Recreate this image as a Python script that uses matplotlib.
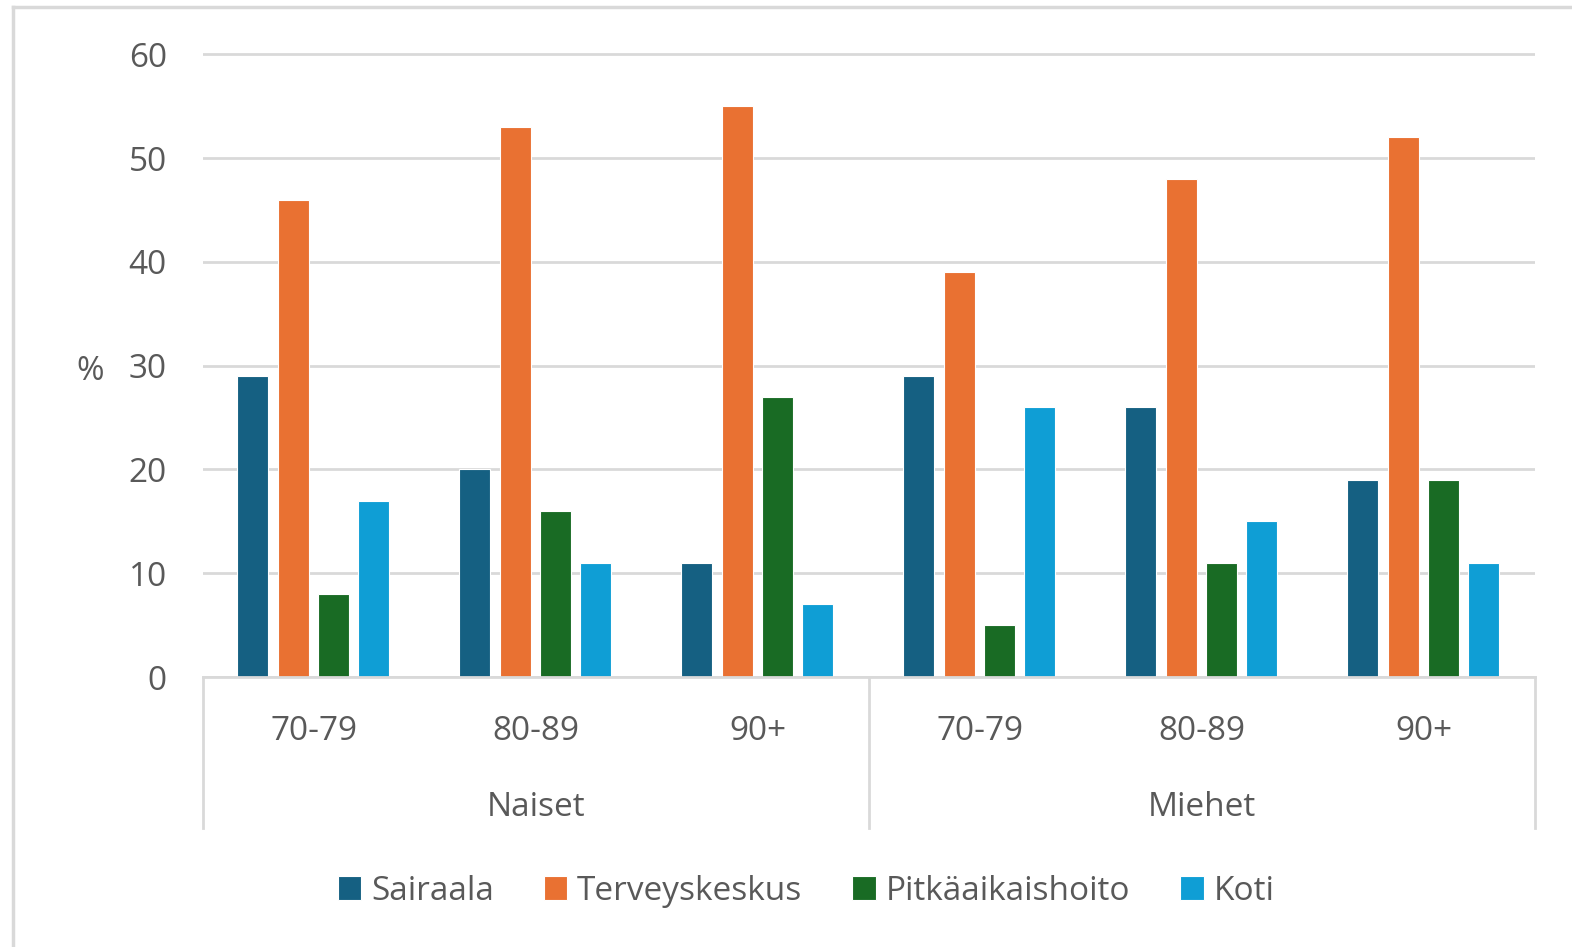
import matplotlib.pyplot as plt
from matplotlib.lines import Line2D
import numpy as np

plt.rcParams['font.family'] = ['Open Sans', 'DejaVu Sans']

groups = ['Naiset', 'Miehet']
ages = ['70-79', '80-89', '90+', '70-79', '80-89', '90+']
series = ['Sairaala', 'Terveyskeskus', 'Pitkäaikaishoito', 'Koti']

sairaala = [29, 20, 11, 29, 26, 19]
terveyskeskus = [46, 53, 55, 39, 48, 52]
pitkaaikaishoito = [8, 16, 27, 5, 11, 19]
koti = [17, 11, 7, 26, 15, 11]

colors = ['#156082', '#E97132', '#196B24', '#0F9ED5']
text_col = '#595959'
line_col = '#D9D9D9'

fig = plt.figure(figsize=(15.72, 9.47), dpi=100)
ymax = 61
top_px = 677 - ymax * 10.38
ax = fig.add_axes([203 / 1572, 1 - 677 / 947, (1535 - 203) / 1572, (677 - top_px) / 947])

x = np.arange(len(ages))
offsets = [-0.279, -0.092, 0.088, 0.268]
for vals, name, col, off in zip([sairaala, terveyskeskus, pitkaaikaishoito, koti],
                                series, colors, offsets):
    ax.bar(x + off, vals, width=0.14, color=col, edgecolor='white',
           linewidth=0.8, label=name, zorder=3)

ax.set_xlim(-0.5, 5.5)
ax.set_ylim(0, ymax)
ax.set_yticks(range(0, 61, 10))
ax.set_xticks([])
ax.tick_params(axis='y', length=0, pad=26, labelsize=24, labelcolor=text_col)
ax.yaxis.grid(True, color=line_col, linewidth=2, zorder=0)
for s in ['top', 'right', 'left']:
    ax.spines[s].set_visible(False)
ax.spines['bottom'].set_color(line_col)
ax.spines['bottom'].set_linewidth(2)
ax.spines['bottom'].set_zorder(4)

# two-level category axis below the plot
axh = 677 - top_px
tr = ax.get_xaxis_transform()
for xs in [-0.5, 2.5, 5.5]:
    ax.plot([xs, xs], [0, -151 / axh], color=line_col, lw=2,
            transform=tr, clip_on=False)
for xi, lab in zip(x, ages):
    ax.text(xi, -55 / axh, lab, transform=tr, ha='center', va='center',
            fontsize=24, color=text_col)
for gi, g in enumerate(groups):
    ax.text(1 + 3 * gi, -130 / axh, g, transform=tr, ha='center', va='center',
            fontsize=24, color=text_col)

fig.text(90 / 1572, 1 - 372 / 947, '%', ha='center', va='center',
         fontsize=24, color=text_col)

fig.legend(loc='center', bbox_to_anchor=(806 / 1572, 1 - 891 / 947), ncol=4,
           frameon=False, fontsize=24, labelcolor=text_col, handlelength=0.7,
           handleheight=0.7, handletextpad=0.3, columnspacing=1.5)

# outer chart frame
fig.add_artist(Line2D([13 / 1572, 13 / 1572], [0, 1 - 7 / 947],
                      color=line_col, lw=2.5, transform=fig.transFigure))
fig.add_artist(Line2D([13 / 1572, 1], [1 - 7 / 947, 1 - 7 / 947],
                      color=line_col, lw=2.5, transform=fig.transFigure))

fig.savefig('out.png', dpi=100)
